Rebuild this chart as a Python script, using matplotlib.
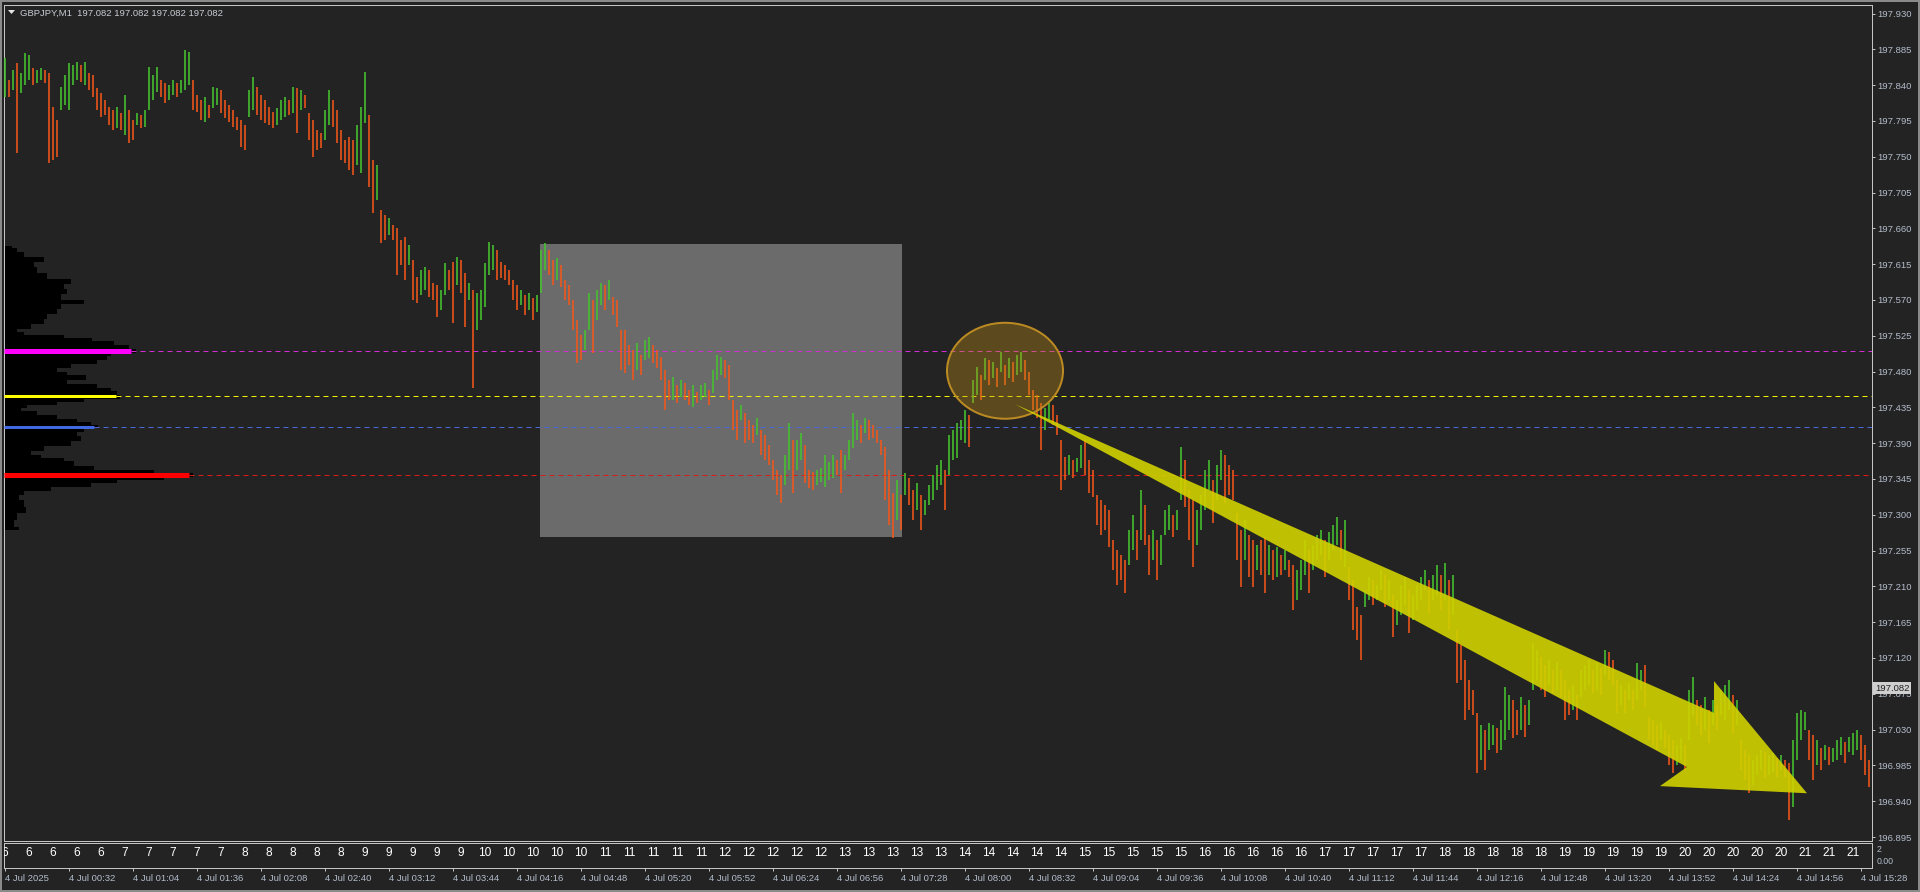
import matplotlib
matplotlib.use("Agg")
import matplotlib.pyplot as plt
import matplotlib.transforms as mtransforms
from matplotlib.patches import Rectangle, Ellipse, Polygon
import numpy as np

# ---------------- data ----------------
SYMBOL_TITLE = "GBPJPY,M1  197.082 197.082 197.082 197.082"
LAST_PRICE = 197.082
BAR_MINUTES = 2          # each drawn bar covers 2 minutes
PTS_BASE = 196.0         # price = PTS_BASE + pts/1000

HIGH_PTS = [
 1874,1846,1859,1868,1855,1880,1878,1862,1859,1862, 1859,1855,1813,1796,1838,1853,1868,1865,1869,1865,
 1869,1855,1853,1836,1830,1821,1813,1809,1813,1805, 1828,1809,1796,1805,1802,1809,1863,1853,1863,1846,
 1843,1840,1846,1843,1846,1884,1882,1846,1828,1821, 1825,1815,1838,1836,1834,1821,1815,1809,1800,1796,
 1790,1834,1850,1838,1828,1821,1813,1806,1811,1821, 1825,1821,1838,1836,1834,1828,1805,1796,1784,1780,
 1809,1834,1821,1809,1784,1771,1775,1771,1790,1813, 1856,1802,1746,1740,1683,1677,1673,1664,1660,1645,
 1649,1639,1620,1599,1608,1611,1608,1591,1589,1582, 1616,1608,1618,1624,1620,1604,1591,1582,1579,1582,
 1616,1643,1639,1633,1618,1614,1608,1595,1589,1582, 1576,1579,1572,1576,1633,1642,1633,1620,1623,1614,
 1595,1589,1570,1545,1526,1532,1579,1570,1583,1591, 1589,1595,1574,1570,1532,1532,1513,1507,1516,1501,
 1520,1523,1513,1507,1498,1482,1469,1473,1463,1469, 1466,1457,1463,1454,1463,1466,1457,1482,1501,1498,
 1495,1488,1444,1432,1438,1428,1419,1413,1422,1407, 1400,1388,1369,1356,1350,1375,1415,1394,1394,1403,
 1388,1356,1354,1356,1359,1375,1366,1375,1369,1381, 1375,1394,1428,1419,1413,1422,1419,1413,1407,1394,
 1385,1356,1327,1344,1325,1352,1346,1331,1340,1325, 1319,1337,1350,1363,1369,1356,1400,1407,1415,1419,
 1432,1425,1469,1486,1476,1497,1495,1492,1485,1505, 1488,1497,1492,1501,1505,1495,1480,1457,1451,1441,
 1434,1441,1438,1425,1394,1373,1375,1369,1371,1388, 1394,1369,1356,1325,1319,1312,1306,1268,1256,1249,
 1243,1281,1300,1281,1331,1312,1275,1281,1268,1275, 1306,1312,1300,1306,1385,1369,1331,1319,1306,1325,
 1356,1369,1344,1363,1381,1375,1363,1356,1302,1281, 1294,1275,1268,1262,1268,1272,1262,1256,1260,1249,
 1256,1243,1237,1231,1243,1268,1256,1262,1275,1281, 1268,1278,1287,1297,1281,1294,1234,1218,1184,1174,
 1206,1222,1218,1212,1231,1224,1218,1199,1193,1212, 1222,1206,1199,1212,1222,1231,1218,1224,1237,1224,
 1239,1218,1224,1155,1136,1118,1092,1080,1051,1036, 1029,1038,1036,1032,1042,1084,1074,1067,1055,1071,
 1061,1067,1139,1130,1121,1111,1118,1105,1115,1105, 1092,1080,1086,1074,1105,1111,1118,1105,1114,1107,
 1130,1128,1118,1092,1086,1080,1089,1080,1114,1105, 1111,1046,1042,1036,1040,1029,1023,1017,1011,1020,
 1011,1080,1096,1067,1061,1071,1055,1067,1061,1080, 1086,1092,1074,1067,1017,1004, 998, 992, 998,1004,
 1002, 998,1001, 994, 998, 992, 988,1017,1051,1055, 1052,1029,1023,1017,1007,1011,1008,1007,1017,1021,
 1014,1021,1026,1029,1023,1011, 992,
]
LOW_PTS = [
 1825,1825,1834,1755,1830,1840,1846,1840,1843,1846, 1843,1742,1746,1750,1809,1815,1809,1840,1846,1844,
 1840,1834,1825,1809,1800,1802,1790,1784,1786,1784, 1777,1767,1771,1790,1786,1787,1809,1821,1831,1825,
 1818,1821,1828,1825,1830,1834,1840,1809,1806,1796, 1794,1799,1811,1815,1805,1799,1794,1787,1784,1762,
 1758,1800,1809,1802,1796,1792,1790,1786,1790,1796, 1800,1802,1805,1780,1809,1811,1771,1750,1758,1761,
 1771,1790,1787,1767,1746,1742,1733,1727,1740,1730, 1792,1712,1679,1696,1642,1645,1652,1645,1601,1614,
 1595,1614,1570,1566,1576,1582,1574,1570,1549,1557, 1576,1582,1541,1589,1579,1536,1570,1459,1532,1545,
 1561,1601,1608,1595,1598,1595,1589,1570,1557,1564, 1551,1557,1545,1555,1579,1608,1601,1589,1595,1586,
 1570,1564,1532,1491,1495,1507,1532,1503,1545,1564, 1557,1570,1551,1536,1482,1478,1488,1469,1482,1476,
 1495,1497,1491,1485,1469,1432,1444,1444,1441,1448, 1444,1438,1435,1441,1444,1448,1438,1453,1469,1476,
 1472,1444,1407,1394,1419,1390,1394,1390,1400,1375, 1369,1363,1344,1325,1315,1337,1356,1327,1356,1369,
 1340,1334,1331,1337,1341,1335,1344,1346,1350,1327, 1356,1369,1384,1394,1390,1403,1394,1397,1390,1375,
 1319,1287,1271,1293,1281,1325,1312,1294,1306,1281, 1300,1312,1319,1331,1337,1306,1350,1369,1371,1394,
 1390,1385,1441,1451,1444,1469,1463,1472,1461,1480, 1463,1472,1467,1476,1480,1469,1451,1432,1422,1381,
 1407,1419,1413,1400,1331,1344,1350,1346,1354,1359, 1350,1327,1322,1287,1275,1281,1259,1231,1212,1218,
 1202,1237,1256,1243,1268,1262,1224,1243,1218,1237, 1275,1281,1272,1281,1319,1310,1268,1234,1262,1281,
 1306,1331,1290,1319,1344,1315,1325,1319,1243,1209, 1243,1222,1209,1231,1224,1202,1224,1218,1222,1224,
 1231,1222,1180,1193,1206,1224,1202,1231,1243,1249, 1222,1243,1256,1262,1243,1234,1193,1155,1143,1118,
 1184,1193,1187,1193,1206,1184,1193,1146,1162,1174, 1187,1151,1168,1180,1193,1206,1177,1193,1199,1180,
 1193,1155,1174,1089,1092,1042,1055,1048, 975, 992,  979,1004,1011,1001,1004,1017,1029,1020,1023,1029,
 1021,1036,1080,1092,1080,1071,1086,1076,1080,1071, 1042,1048,1055,1042,1071,1080,1086,1076,1080,1074,
 1099,1092,1086,1051,1061,1051,1067,1055,1067,1080, 1058,1017,1011,1004,1017,1007, 986, 975, 986, 992,
  979,1017,1048,1036,1023,1029,1013,1036,1029,1048, 1042,1055,1026,1036, 979, 967, 950, 961, 973, 979,
  969, 973, 977, 970, 979, 970, 916, 933, 992,1017, 1029, 992, 967, 986, 979, 992, 986, 989, 992, 998,
  988,1002, 998,1004, 992, 973, 958,
]

# volume profile (left histogram), levels in pts, volume in profile units
PROFILE_PTS = [1638,1633,1627,1620,1616,1608,1599,1593,1587,1580, 1574,1567,1562,1555,1549,1543,1536,1532,1528,1524,
               1521,1516,1511,1506,1501,1497,1492,1488,1482,1478, 1473,1467,1461,1457,1453,1448,1444,1440,1436,1432,
               1428,1423,1419,1415,1410,1407,1402,1396,1390,1384, 1377,1373,1369,1365,1358,1354,1350,1346,1342,1337,
               1333,1327,1323,1314,1306,1298,1289,1281]
PROFILE_VOL = [8,13,20,40,30,33,43,67,60,63, 57,80,57,53,43,40,27,13,20,60,
               88,110,125,132,107,103,93,67,53,63, 82,63,93,107,113,116,80,53,23,17,
               33,53,73,87,94,80,73,77,67,40, 27,37,60,70,90,150,189,160,113,87,
               47,20,15,20,22,13,10,15]

# key levels
LEVEL_PRICE = [197.506, 197.449, 197.410, 197.350]
LEVEL_VOL = [127, 112, 90, 185]
LEVEL_COLOR = ['#ff00ff', '#ffff00', '#4169e1', '#ff0000']
LEVEL_DASH_COLOR = ['#d62cd6', '#f2f200', '#4a6ad8', '#d81b1b']
LEVEL_THICK_PX = [5, 3, 3, 5]

# annotations (time in minutes from 00:00, price)
BOX_T = (267.5, 448.5)
BOX_P = (197.272, 197.640)
CIRCLE_T, CIRCLE_P, CIRCLE_W, CIRCLE_H = 500.0, 197.481, 58.0, 0.1206
ARROW_T = [505.0, 854.5, 854.5, 901.0, 827.5, 841.0]
ARROW_P = [197.439, 197.051, 197.091, 196.950, 196.959, 196.983]

Y_TICK_LABELS = ['197.930','197.885','197.840','197.795','197.750','197.705','197.660','197.615',
                 '197.570','197.525','197.480','197.435','197.390','197.345','197.300','197.255',
                 '197.210','197.165','197.120','197.075','197.030','196.985','196.940','196.895']
X_TICK_MIN = [0,32,64,96,128,160,192,224,256,288,320,352,384,416,448,480,512,544,576,608,
              640,672,704,736,768,800,832,864,896,928]
X_TICK_LABELS = ['4 Jul 2025','4 Jul 00:32','4 Jul 01:04','4 Jul 01:36','4 Jul 02:08','4 Jul 02:40',
                 '4 Jul 03:12','4 Jul 03:44','4 Jul 04:16','4 Jul 04:48','4 Jul 05:20','4 Jul 05:52',
                 '4 Jul 06:24','4 Jul 06:56','4 Jul 07:28','4 Jul 08:00','4 Jul 08:32','4 Jul 09:04',
                 '4 Jul 09:36','4 Jul 10:08','4 Jul 10:40','4 Jul 11:12','4 Jul 11:44','4 Jul 12:16',
                 '4 Jul 12:48','4 Jul 13:20','4 Jul 13:52','4 Jul 14:24','4 Jul 14:56','4 Jul 15:28']
SUB_LABELS = ("6 6 6 6 6 7 7 7 7 7 8 8 8 8 8 9 9 9 9 9 10 10 10 10 10 11 11 11 11 11 "
              "12 12 12 12 12 13 13 13 13 13 14 14 14 14 14 15 15 15 15 15 16 16 16 16 16 "
              "17 17 17 17 17 18 18 18 18 18 19 19 19 19 19 20 20 20 20 20 21 21 21").split()
SUB_LABEL_STEP_MIN = 12

# ---------------- style ----------------
W, H = 1920, 892
BG = '#232323'
FRAME = '#c4c4c4'
AXTXT = '#b3bdcc'
UP = '#45c22f'
DOWN = '#f2571a'
PX = 72.0 / 100.0   # points per pixel

plt.rcParams['font.family'] = ['Liberation Sans', 'DejaVu Sans']

fig = plt.figure(figsize=(W / 100, H / 100), dpi=100, facecolor=BG)

def fx(x):
    return x / W

def fy(y):
    return 1 - y / H

ax = fig.add_axes([fx(4), fy(841), (1872 - 4) / W, (841 - 5) / H], facecolor=BG)
ax2 = fig.add_axes([fx(4), fy(868), (1872 - 4) / W, (868 - 843) / H], facecolor=BG)

XMIN, XMAX = -0.5, 933.5
ax.set_xlim(XMIN, XMAX)
ax.set_ylim(196.890, 197.9407)
ax2.set_xlim(XMIN, XMAX)
ax2.set_ylim(0, 1)

for a in (ax, ax2):
    for s in a.spines.values():
        s.set_color(FRAME)
        s.set_linewidth(1 * PX)

# price axis
ax.yaxis.tick_right()
ax.set_yticks([float(v) for v in Y_TICK_LABELS])
ax.set_yticklabels(Y_TICK_LABELS)
ax.tick_params(axis='y', colors=FRAME, labelcolor=AXTXT, length=3 * PX, width=1 * PX,
               pad=2.5 * PX, labelsize=6.8)
ax.set_xticks([])

# gray box
ax.add_patch(Rectangle((BOX_T[0], BOX_P[0]), BOX_T[1] - BOX_T[0], BOX_P[1] - BOX_P[0],
                       facecolor='#6b6b6b', edgecolor='none', zorder=1))

# volume profile
pp = np.array(PROFILE_PTS[::-1]) / 1000.0 + PTS_BASE
pv = np.array(PROFILE_VOL[::-1]) * 0.5
ax.fill_betweenx(pp, XMIN, XMIN + pv, step='mid', color='black', lw=0, zorder=2)

# levels
for p, v, c, dc, th in zip(LEVEL_PRICE, LEVEL_VOL, LEVEL_COLOR, LEVEL_DASH_COLOR, LEVEL_THICK_PX):
    xe = XMIN + v * 0.5
    ax.hlines(p, xe, XMAX, colors=dc, linewidth=1 * PX, linestyles=(0, (5, 4)), zorder=2.6)
    ax.hlines(p, XMIN, xe, colors=c, linewidth=th * PX, zorder=2.7, capstyle='butt')

# price bars
hi = np.array(HIGH_PTS) / 1000.0 + PTS_BASE
lo = np.array(LOW_PTS) / 1000.0 + PTS_BASE
t = np.arange(len(hi)) * BAR_MINUTES
mid = (hi + lo) / 2
cols = [UP] + [UP if mid[i] >= mid[i - 1] else DOWN for i in range(1, len(mid))]
ax.vlines(t, lo, hi, colors=cols, linewidth=1.6 * PX, zorder=3, antialiased=True)

# circle
ax.add_patch(Ellipse((CIRCLE_T, CIRCLE_P), CIRCLE_W, CIRCLE_H, facecolor=(0.76, 0.56, 0.08, 0.36),
                     edgecolor=(0.76, 0.56, 0.14, 0.95), linewidth=2 * PX, zorder=4))

# arrow
ax.add_patch(Polygon(list(zip(ARROW_T, ARROW_P)), closed=True, facecolor='#cfcf00',
                     edgecolor='none', alpha=0.92, zorder=5))

# current price label
trans = mtransforms.blended_transform_factory(ax.transAxes, ax.transData)
ax.text(1.0 + 3 / 1868, LAST_PRICE, '197.082', transform=trans,
        ha='left', va='center', fontsize=6.8, color='#202020', clip_on=False, zorder=10,
        bbox=dict(boxstyle='square,pad=0.18', facecolor='#cfcfcf', edgecolor='none'))

# sub window
ax2.set_yticks([])
ax2.set_xticks(X_TICK_MIN)
ax2.set_xticklabels(X_TICK_LABELS)
ax2.tick_params(axis='x', colors=FRAME, labelcolor=AXTXT, length=3 * PX, width=1 * PX,
                pad=3 * PX, labelsize=6.8, direction='out')
for lab in ax2.get_xticklabels():
    lab.set_horizontalalignment('left')
for i, s in enumerate(SUB_LABELS):
    ax2.text(i * SUB_LABEL_STEP_MIN, 0.62, s, ha='center', va='center', color='white',
             fontsize=8.6, clip_on=True)

fig.text(fx(1877), fy(849), '2', ha='left', va='center', fontsize=6.3, color=AXTXT)
fig.text(fx(1877), fy(861), '0.00', ha='left', va='center', fontsize=6.3, color=AXTXT)

# title
fig.text(fx(20), fy(13), SYMBOL_TITLE, ha='left', va='center', fontsize=6.8, color='#c9ccd4')
fig.patches.append(Polygon([(fx(8), fy(10)), (fx(15), fy(10)), (fx(11.5), fy(14))], closed=True,
                           transform=fig.transFigure, facecolor='#e6e6e6', edgecolor='none'))

# outer border
fig.patches.append(Rectangle((0, 0), 1, 1, transform=fig.transFigure, fill=False,
                             edgecolor='#8a8a8a', linewidth=4 * PX))

fig.savefig('out.png', dpi=100, facecolor=BG)
